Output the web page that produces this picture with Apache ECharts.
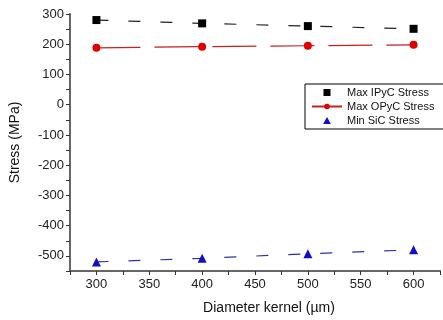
<!DOCTYPE html>
<html>
<head>
<meta charset="utf-8">
<script src="https://cdn.jsdelivr.net/npm/echarts@6/dist/echarts.min.js"></script>
<style>
  html, body { margin: 0; padding: 0; background: #fff; }
  #chart { width: 443px; height: 320px; }
</style>
</head>
<body>
<div id="chart"></div>
<script>
// diameter kernel (um)
var diameters = [300, 400, 500, 600];
// stresses (MPa)
var ipycMax = [280, 269, 260, 251];
var opycMax = [188, 192, 195, 198];
var sicMin = [-520, -508, -493, -480];

function pairs(ys) {
    return diameters.map(function (d, i) { return [d, ys[i]]; });
}

var chart = echarts.init(document.getElementById('chart'));
var axisFont = { fontFamily: 'Liberation Sans', fontSize: 13, color: '#222' };

chart.setOption({
    animation: false,
    grid: { left: 68, right: -3, top: 14, bottom: 45 },
    legend: {
        orient: 'vertical',
        left: 305,
        top: 84,
        padding: [3, 30, 3, 6],
        itemGap: 3,
        itemWidth: 30,
        itemHeight: 7,
        symbolKeepAspect: true,
        borderColor: '#000',
        borderWidth: 1,
        textStyle: { fontFamily: 'Liberation Sans', fontSize: 11, color: '#111' },
        data: [
            { name: 'Max IPyC Stress', icon: 'path://M0,0h10v10h-10z', itemStyle: { color: '#000' } },
            { name: 'Max OPyC Stress', lineStyle: { type: 'solid' } },
            { name: 'Min SiC Stress', icon: 'path://M5,0L10,9H0Z' }
        ]
    },
    xAxis: {
        type: 'value',
        min: 275,
        max: 625,
        interval: 25,
        name: 'Diameter kernel (µm)',
        nameLocation: 'middle',
        nameGap: 30,
        nameTextStyle: { fontFamily: 'Liberation Sans', fontSize: 14, color: '#111', padding: [0, 0, 0, 28] },
        axisLine: { onZero: false, lineStyle: { color: '#666', width: 2 } },
        axisTick: { length: 4, lineStyle: { color: '#333' } },
        axisLabel: Object.assign({
            margin: 7,
            formatter: function (v) { return v % 50 === 0 && v >= 300 && v <= 600 ? String(v) : ''; }
        }, axisFont),
        splitLine: { show: false }
    },
    yAxis: {
        type: 'value',
        min: -550,
        max: 300,
        interval: 50,
        name: 'Stress (MPa)',
        nameLocation: 'middle',
        nameGap: 48,
        nameTextStyle: { fontFamily: 'Liberation Sans', fontSize: 14, color: '#111' },
        axisLine: { show: true, onZero: false, lineStyle: { color: '#666', width: 2 } },
        axisTick: { show: true, length: 4, lineStyle: { color: '#333' } },
        axisLabel: Object.assign({
            margin: 6,
            formatter: function (v) { return v % 100 === 0 ? String(v) : ''; }
        }, axisFont),
        splitLine: { show: false }
    },
    series: [
        {
            name: 'Max IPyC Stress',
            type: 'line',
            data: pairs(ipycMax),
            symbol: 'rect',
            symbolSize: 8,
            itemStyle: { color: '#000' },
            lineStyle: { color: '#222', width: 1.2, type: [12, 20] }
        },
        {
            name: 'Max OPyC Stress',
            type: 'line',
            data: pairs(opycMax),
            symbol: 'circle',
            symbolSize: 8,
            itemStyle: { color: '#e00000' },
            lineStyle: { color: '#c62020', width: 1.2, type: [44, 14] }
        },
        {
            name: 'Min SiC Stress',
            type: 'line',
            data: pairs(sicMin),
            symbol: 'triangle',
            symbolSize: 9,
            itemStyle: { color: '#1010c0' },
            lineStyle: { color: '#3030a0', width: 1.2, type: [12, 20] }
        }
    ]
});
</script>
</body>
</html>
